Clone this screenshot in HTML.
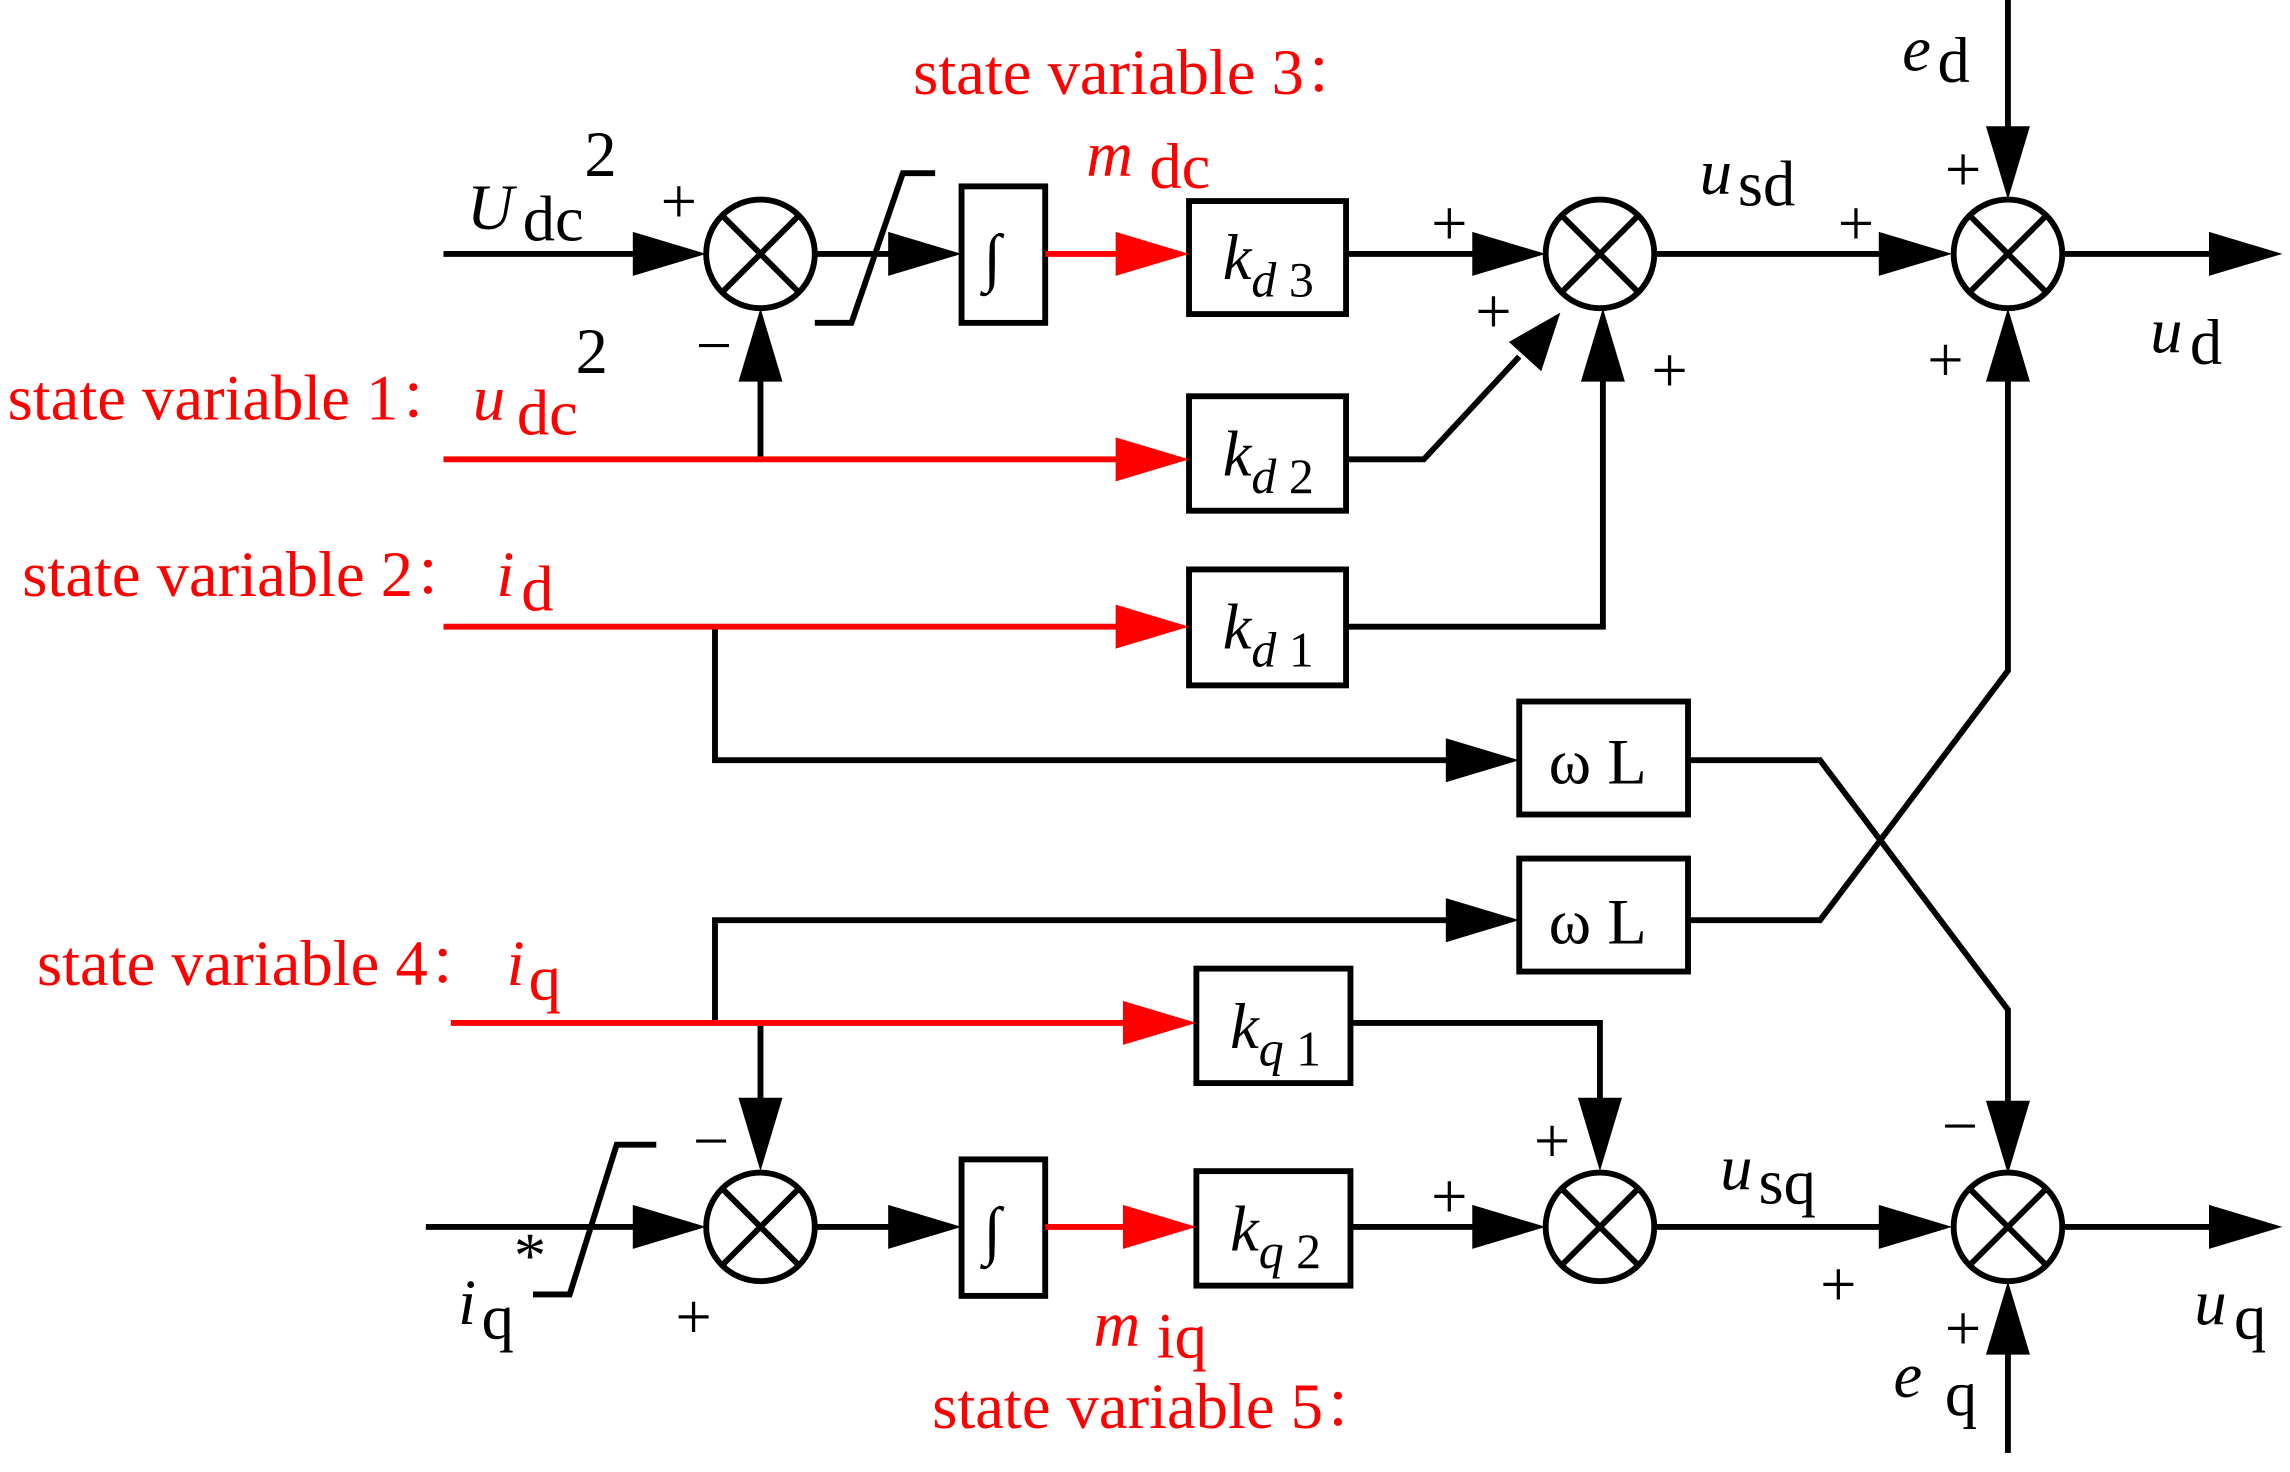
<!DOCTYPE html>
<html><head><meta charset="utf-8"><style>
html,body{margin:0;padding:0;background:#fff}
svg{display:block}
text{font-family:"Liberation Serif","Noto Serif CJK SC",serif;font-size:44px}
.r{fill:#f00}
.i{font-style:italic}
</style></head><body>
<svg width="2290" height="1472" viewBox="0 0 1560 1003" xmlns="http://www.w3.org/2000/svg">
<g fill="none" stroke="#000" stroke-width="4">
<circle cx="518" cy="173" r="37"/><path d="M492 147L544 199M544 147L492 199"/>
<circle cx="1090" cy="173" r="37"/><path d="M1064 147L1116 199M1116 147L1064 199"/>
<circle cx="1368" cy="173" r="37"/><path d="M1342 147L1394 199M1394 147L1342 199"/>
<circle cx="518" cy="836" r="37"/><path d="M492 810L544 862M544 810L492 862"/>
<circle cx="1090" cy="836" r="37"/><path d="M1064 810L1116 862M1116 810L1064 862"/>
<circle cx="1368" cy="836" r="37"/><path d="M1342 810L1394 862M1394 810L1342 862"/>
<rect x="655" y="127" width="57" height="93"/>
<rect x="810" y="137" width="107" height="77"/>
<rect x="810" y="270" width="107" height="78"/>
<rect x="810" y="388" width="107" height="79"/>
<rect x="1035" y="478" width="115" height="77"/>
<rect x="1035" y="585" width="115" height="77"/>
<rect x="815" y="660" width="105" height="78"/>
<rect x="655" y="790" width="57" height="93"/>
<rect x="815" y="798" width="105" height="78"/>
<path d="M302 173H440"/>
<path d="M555 173H610"/>
<path d="M555 220H580L615 118H637"/>
<path d="M917 173H1005"/>
<path d="M917 313H970L1035 243"/>
<path d="M917 427H1092V255"/>
<path d="M1127 173H1285"/>
<path d="M1368 0V90"/>
<path d="M1405 173H1510"/>
<path d="M518 313V255"/>
<path d="M487 427V518H990"/>
<path d="M1150 518H1240L1368 688V755"/>
<path d="M1150 627H1240L1368 457V255"/>
<path d="M487 697V627H990"/>
<path d="M518 697V755"/>
<path d="M920 697H1090V755"/>
<path d="M290 836H440"/>
<path d="M363 882H388L420 780H447"/>
<path d="M555 836H610"/>
<path d="M920 836H1005"/>
<path d="M1127 836H1285"/>
<path d="M1368 990V918"/>
<path d="M1405 836H1510"/>
</g>
<g fill="none" stroke="#f00" stroke-width="4">
<path d="M302 313H770"/>
<path d="M302 427H770"/>
<path d="M307 697H775"/>
<path d="M712 173H770"/>
<path d="M712 836H775"/>
</g>
<g fill="#000">
<polygon points="431,158 481,173 431,188"/>
<polygon points="605,158 655,173 605,188"/>
<polygon points="1003,158 1053,173 1003,188"/>
<polygon points="1280,158 1330,173 1280,188"/>
<polygon points="1505,158 1555,173 1505,188"/>
<polygon points="1353,86 1368,136 1383,86"/>
<polygon points="503,260 518,210 533,260"/>
<polygon points="1077,260 1092,210 1107,260"/>
<polygon points="1353,260 1368,210 1383,260"/>
<polygon points="1028,233 1063,213 1050,253"/>
<polygon points="985,503 1035,518 985,533"/>
<polygon points="985,612 1035,627 985,642"/>
<polygon points="503,748 518,798 533,748"/>
<polygon points="1075,748 1090,798 1105,748"/>
<polygon points="1353,750 1368,800 1383,750"/>
<polygon points="431,821 481,836 431,851"/>
<polygon points="605,821 655,836 605,851"/>
<polygon points="1003,821 1053,836 1003,851"/>
<polygon points="1280,821 1330,836 1280,851"/>
<polygon points="1505,821 1555,836 1505,851"/>
<polygon points="1353,923 1368,873 1383,923"/>
</g>
<g fill="#f00">
<polygon points="760,158 810,173 760,188"/>
<polygon points="760,298 810,313 760,328"/>
<polygon points="760,412 810,427 760,442"/>
<polygon points="765,682 815,697 765,712"/>
<polygon points="765,821 815,836 765,851"/>
</g>
<text x="670" y="190" font-size="48">∫</text>
<text x="670" y="853" font-size="48">∫</text>
<g font-size="48">
<text x="833" y="190"><tspan class="i">k</tspan><tspan class="i" font-size="34" dy="12">d</tspan><tspan font-size="34"> 3</tspan></text>
<text x="833" y="324"><tspan class="i">k</tspan><tspan class="i" font-size="34" dy="12">d</tspan><tspan font-size="34"> 2</tspan></text>
<text x="833" y="442"><tspan class="i">k</tspan><tspan class="i" font-size="34" dy="12">d</tspan><tspan font-size="34"> 1</tspan></text>
<text x="838" y="714"><tspan class="i">k</tspan><tspan class="i" font-size="34" dy="12">q</tspan><tspan font-size="34"> 1</tspan></text>
<text x="838" y="852"><tspan class="i">k</tspan><tspan class="i" font-size="34" dy="12">q</tspan><tspan font-size="34"> 2</tspan></text>
<text x="1055" y="534">ω L</text>
<text x="1055" y="643">ω L</text>
</g>
<g font-size="54">
<text x="450" y="152">+</text><text x="474" y="250">−</text>
<text x="975" y="167">+</text><text x="1005" y="227">+</text><text x="1125" y="267">+</text>
<text x="1252" y="167">+</text><text x="1325" y="130">+</text><text x="1313" y="260">+</text>
<text x="472" y="792">−</text><text x="1045" y="792">+</text><text x="1323" y="782">−</text>
<text x="460" y="912">+</text><text x="975" y="830">+</text><text x="1240" y="890">+</text><text x="1325" y="920">+</text>
</g>
<text x="318" y="156" class="i" font-size="46">U</text><text x="356" y="164" font-size="32">dc</text><text x="398" y="120" font-size="30">2</text>
<text x="1158" y="132" class="i" font-size="46">u</text><text x="1184" y="140" font-size="32">sd</text>
<text x="1296" y="48" class="i" font-size="46">e</text><text x="1320" y="56" font-size="32">d</text>
<text x="1465" y="240" class="i" font-size="46">u</text><text x="1492" y="248" font-size="32">d</text>
<text x="1172" y="810" class="i" font-size="46">u</text><text x="1198" y="820" font-size="32">sq</text>
<text x="1495" y="902" class="i" font-size="46">u</text><text x="1522" y="912" font-size="32">q</text>
<text x="1290" y="952" class="i" font-size="46">e</text><text x="1325" y="964" font-size="32">q</text>
<text x="312" y="902" class="i" font-size="46">i</text><text x="328" y="912" font-size="32">q</text><text x="350" y="870" font-size="30">*</text>
<g class="r">
<text x="622" y="64">state variable 3：</text>
<text x="740" y="120" class="i" font-size="46">m</text><text x="783" y="128" font-size="32">dc</text>
<text x="5" y="286">state variable 1：</text><text x="322" y="286" class="i" font-size="46">u</text><text x="352" y="296" font-size="32">dc</text><text x="392" y="254" font-size="30" fill="#000">2</text>
<text x="15" y="406">state variable 2：</text><text x="338" y="406" class="i" font-size="46">i</text><text x="355" y="416" font-size="32">d</text>
<text x="25" y="671">state variable 4：</text><text x="345" y="671" class="i" font-size="46">i</text><text x="360" y="681" font-size="32">q</text>
<text x="745" y="917" class="i" font-size="46">m</text><text x="788" y="925" font-size="32">iq</text>
<text x="635" y="973">state variable 5：</text>
</g>
</svg>
</body></html>
